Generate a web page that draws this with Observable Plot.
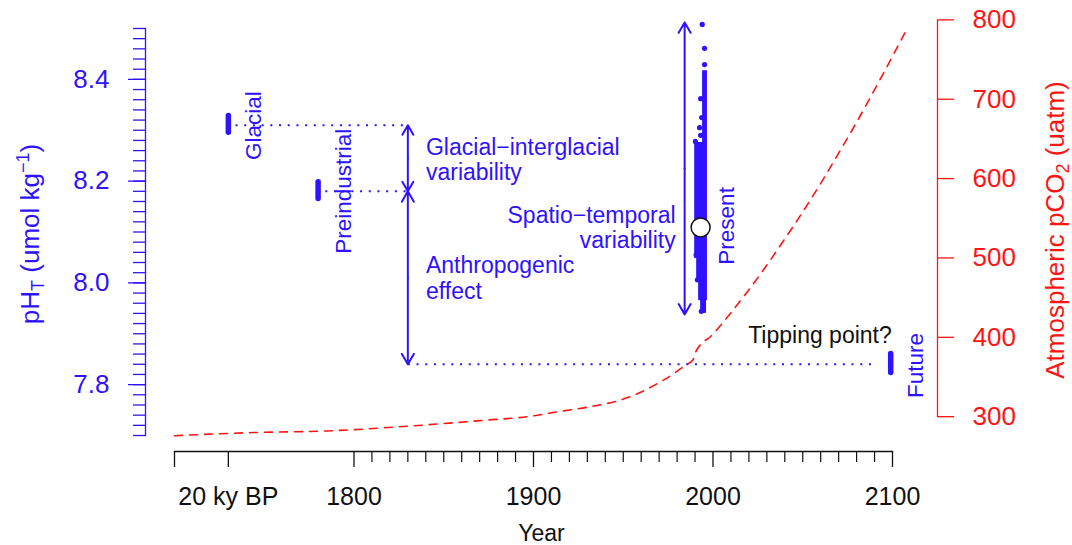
<!DOCTYPE html>
<html><head><meta charset="utf-8">
<script src="https://cdn.jsdelivr.net/npm/d3@7"></script>
<script src="https://cdn.jsdelivr.net/npm/@observablehq/plot@0.6"></script>
<style>
html,body{margin:0;padding:0;background:#fff;}
#chart svg{display:block;}
</style></head><body><div id="chart"></div>
<script>
// ---------------- data ----------------
const phMajorTicks = [7.8, 8.0, 8.2, 8.4];
const phMinorTicks = [7.70,7.72,7.74,7.76,7.78,7.80,7.82,7.84,7.86,7.88,7.90,7.92,7.94,7.96,7.98,8.00,
  8.02,8.04,8.06,8.08,8.10,8.12,8.14,8.16,8.18,8.20,8.22,8.24,8.26,8.28,8.30,8.32,8.34,8.36,8.38,8.40,
  8.42,8.44,8.46,8.48,8.50];
const co2Ticks = [300, 400, 500, 600, 700, 800];
const co2PhAlignment = [[300, 7.737], [800, 8.517]]; // secondary axis: pCO2 value <-> pH position

const yearMajorTicks = [1700, 1730, 1800, 1900, 2000, 2100];
const yearTickLabels = ["", "20 ky BP", "1800", "1900", "2000", "2100"];
const yearMinorTicks = [1810,1820,1830,1840,1850,1860,1870,1880,1890,1910,1920,1930,1940,1950,1960,1970,1980,1990,
  2010,2020,2030,2040,2050,2060,2070,2080,2090];

// atmospheric pCO2 (uatm)
const co2Years  = [1700, 1744, 1785, 1830, 1870, 1900, 1913, 1930, 1947, 1960, 1970, 1978, 1984, 1989, 1990, 2000, 2010, 2020, 2030, 2040, 2050, 2060, 2070, 2080, 2090, 2100, 2107];
const co2Values = [276,  280,  282,  288,  295,  301,  306,  312,  320,  331,  343,  354,  364,  372,  380,  404,  431,  460,  491,  524,  558,  594,  632,  671,  712,  754,  784];

// period pH ranges (thick bars)
const periodNames  = ["Glacial", "Preindustrial", "Future"];
const periodYears  = [1730, 1780, 2099];
const periodPhLow  = [8.295, 8.165, 7.823];
const periodPhHigh = [8.328, 8.198, 7.860];

// dotted reference levels
const refPh        = [8.31, 8.18, 7.84];
const refYearStart = [1734, 1784, 1830];
const refYearEnd   = [1830, 1830, 2091];

// double arrows: [year, phA, phB]
const arrowYears = [1830, 1830, 1984.2];
const arrowPhA   = [8.31, 8.18, 8.512];
const arrowPhB   = [8.18, 7.84, 7.938];

// present-day observations: dense core ranges and isolated points
const coreYear1  = [1994.2, 1989.8, 1990.9, 1992.0, 1993.1];
const coreYear2  = [1996.9, 1996.9, 1996.9, 1996.9, 1996.4];
const corePhLow  = [8.274, 8.048, 8.001, 7.965, 7.940];
const corePhHigh = [8.417, 8.276, 8.050, 8.003, 7.967];
const obsYears = [1994.0, 1995.3, 1995.3, 1993.1, 1993.7, 1992.5, 1993.1, 1990.2, 1990.6, 1991.3, 1993.5];
const obsPh    = [8.508, 8.461, 8.429, 8.362, 8.325, 8.305, 8.290, 8.278, 8.055, 8.006, 7.944];
const presentMeanYear = 1993.1, presentMeanPh = 8.109;

// labels
const vLabelText = ["Glacial", "Preindustrial", "Present", "Future"];
const vLabelYear = [1744.3, 1794.2, 2007.6, 2113.2];
const vLabelPh   = [8.309, 8.180, 8.112, 7.8376];

const leftNoteText = ["Glacial\u2212interglacial\nvariability", "Anthropogenic\neffect"];
const leftNoteYear = [1840.1, 1840.1];
const leftNotePh   = [8.242, 8.0096];
const rightNoteText = ["Spatio\u2212temporal\nvariability", "Tipping point?"];
const rightNoteYear = [1979.2, 2099.6];
const rightNotePh   = [8.1079, 7.8966];
const rightNoteColor = ["blue", "black"];

// ---------------- styles ----------------
const BLUE = "#2f12ff", RED = "#ff1414", INK = "#111";
const FONT = "'Liberation Sans', Arial, Helvetica, sans-serif";

const co2ToPh = p => {
  const [[p0, h0], [p1, h1]] = co2PhAlignment;
  return h0 + (p - p0) * (h1 - h0) / (p1 - p0);
};
const phToCo2 = h => {
  const [[p0, h0], [p1, h1]] = co2PhAlignment;
  return p0 + (h - h0) * (p1 - p0) / (h1 - h0);
};

const co2Data = co2Years.map((y, i) => ({year: y, ph: co2ToPh(co2Values[i])}));
const periods = periodNames.map((n, i) => ({name: n, year: periodYears[i], lo: periodPhLow[i], hi: periodPhHigh[i]}));
const refs = refPh.map((p, i) => ({ph: p, x1: refYearStart[i], x2: refYearEnd[i]}));
const arrows = [];
arrowYears.forEach((y, i) => {
  const mid = (arrowPhA[i] + arrowPhB[i]) / 2;
  arrows.push({year: y, from: mid, to: arrowPhA[i]});
  arrows.push({year: y, from: mid, to: arrowPhB[i]});
});
const core = coreYear1.map((y, i) => ({x1: y, x2: coreYear2[i], y1: corePhLow[i], y2: corePhHigh[i]}));
const obs = obsYears.map((y, i) => ({year: y, ph: obsPh[i]}));
const vLabels = vLabelText.map((t, i) => ({text: t, year: vLabelYear[i], ph: vLabelPh[i]}));
const leftNotes = leftNoteText.map((t, i) => ({text: t, year: leftNoteYear[i], ph: leftNotePh[i]}));
const rightNotes = rightNoteText.map((t, i) => ({text: t, year: rightNoteYear[i], ph: rightNotePh[i], color: rightNoteColor[i]}));

const PH_TITLE = "pH_T (umol kg^-1)";
const CO2_TITLE = "Atmospheric pCO_2 (uatm)";

const chart = Plot.plot({
  width: 1072, height: 545,
  marginTop: 28, marginBottom: 94, marginLeft: 145, marginRight: 135,
  x: {domain: [1700, 2100], range: [174, 892]},
  y: {domain: [7.7, 8.5], range: [435, 28]},
  style: {fontFamily: FONT, background: "white", overflow: "visible"},
  marks: [
    // left pH axis
    Plot.frame({anchor: "left", stroke: BLUE, strokeWidth: 1.3, insetBottom: 16}),
    Plot.axisY(phMinorTicks, {anchor: "left", tickSize: 12, tickFormat: () => "", color: BLUE, strokeWidth: 1.3, label: null}),
    Plot.axisY(phMajorTicks, {anchor: "left", tickSize: 17, tickPadding: 19, tickFormat: d3.format(".1f"),
      color: BLUE, strokeWidth: 1.3, fontSize: 26, label: null}),
    Plot.text([PH_TITLE], {frameAnchor: "left", dx: -115, dy: -6, rotate: -90, fontSize: 26, fill: BLUE,
      textAnchor: "middle", lineAnchor: "middle"}),
    // right pCO2 axis
    Plot.frame({anchor: "right", stroke: RED, strokeWidth: 1.3, insetTop: -8.6, insetBottom: 34.8}),
    Plot.axisY(co2Ticks.map(co2ToPh), {anchor: "right", tickSize: 16, tickPadding: 19,
      tickFormat: d => String(Math.round(phToCo2(d))), color: RED, strokeWidth: 1.3, fontSize: 26, label: null}),
    Plot.text([CO2_TITLE], {frameAnchor: "right", dx: 118, dy: -10, rotate: -90, fontSize: 26, fill: RED,
      textAnchor: "middle", lineAnchor: "middle"}),
    // bottom year axis
    Plot.frame({anchor: "bottom", stroke: INK, strokeWidth: 1.3, insetLeft: 29, insetRight: 45}),
    Plot.axisX(yearMinorTicks, {anchor: "bottom", tickSize: 11, tickFormat: () => "", color: INK, strokeWidth: 1.2, label: null}),
    Plot.axisX(yearMajorTicks, {anchor: "bottom", tickSize: 16, tickPadding: 20,
      tickFormat: d => yearTickLabels[yearMajorTicks.indexOf(d)], color: INK, strokeWidth: 1.3, fontSize: 25, label: null}),
    Plot.text(["Year"], {frameAnchor: "bottom", dy: 82, fontSize: 23, fill: INK, lineAnchor: "middle"}),

    // pCO2 curve
    Plot.line(co2Data, {x: "year", y: "ph", stroke: RED, strokeWidth: 1.6, strokeDasharray: "8,7", curve: "monotone-x"}),

    // dotted reference lines
    Plot.link(refs, {x1: "x1", x2: "x2", y1: "ph", y2: "ph", stroke: BLUE, strokeWidth: 2, strokeDasharray: "2,6.7"}),
    // period bars
    Plot.ruleX(periods, {x: "year", y1: "lo", y2: "hi", stroke: BLUE, strokeWidth: 5.5, strokeLinecap: "round"}),
    // arrows
    Plot.arrow(arrows, {x1: "year", x2: "year", y1: "from", y2: "to", stroke: BLUE, strokeWidth: 2, headLength: 9, headAngle: 60}),
    // present-day observations
    Plot.rect(core, {x1: "x1", x2: "x2", y1: "y1", y2: "y2", fill: BLUE}),
    Plot.dot(obs, {x: "year", y: "ph", r: 2.6, fill: BLUE}),
    Plot.dot([{year: presentMeanYear, ph: presentMeanPh}], {x: "year", y: "ph", r: 9.5, fill: "white", stroke: INK, strokeWidth: 1.5}),

    // labels
    Plot.text(vLabels, {x: "year", y: "ph", text: "text", rotate: -90, fontSize: 22.5, fill: BLUE,
      textAnchor: "middle", lineAnchor: "middle"}),
    Plot.text(leftNotes, {x: "year", y: "ph", text: "text", textAnchor: "start", fontSize: 23,
      fill: BLUE, lineAnchor: "middle", lineHeight: 1.087}),
    Plot.text(rightNotes, {x: "year", y: "ph", text: "text", textAnchor: "end", fontSize: 23,
      fill: d => d.color === "blue" ? BLUE : INK, lineAnchor: "middle", lineHeight: 1.087})
  ]
});

// rich text for sub/superscripts in the axis titles
function richify(svg, plain, parts) {
  const NS = "http://www.w3.org/2000/svg";
  for (const t of svg.querySelectorAll("text")) {
    if (t.textContent !== plain) continue;
    while (t.firstChild) t.removeChild(t.firstChild);
    let shift = 0;
    for (const [str, kind] of parts) {
      const ts = document.createElementNS(NS, "tspan");
      const target = kind === "sub" ? 5 : kind === "sup" ? -10 : 0;
      if (target !== shift) { ts.setAttribute("dy", target - shift); shift = target; }
      if (kind) ts.setAttribute("font-size", 18);
      ts.textContent = str;
      t.appendChild(ts);
    }
  }
}
richify(chart, PH_TITLE, [["pH", null], ["T", "sub"], [" (umol kg", null], ["\u22121", "sup"], [")", null]]);
richify(chart, CO2_TITLE, [["Atmospheric pCO", null], ["2", "sub"], [" (uatm)", null]]);

document.getElementById("chart").appendChild(chart);
</script>
</body></html>
